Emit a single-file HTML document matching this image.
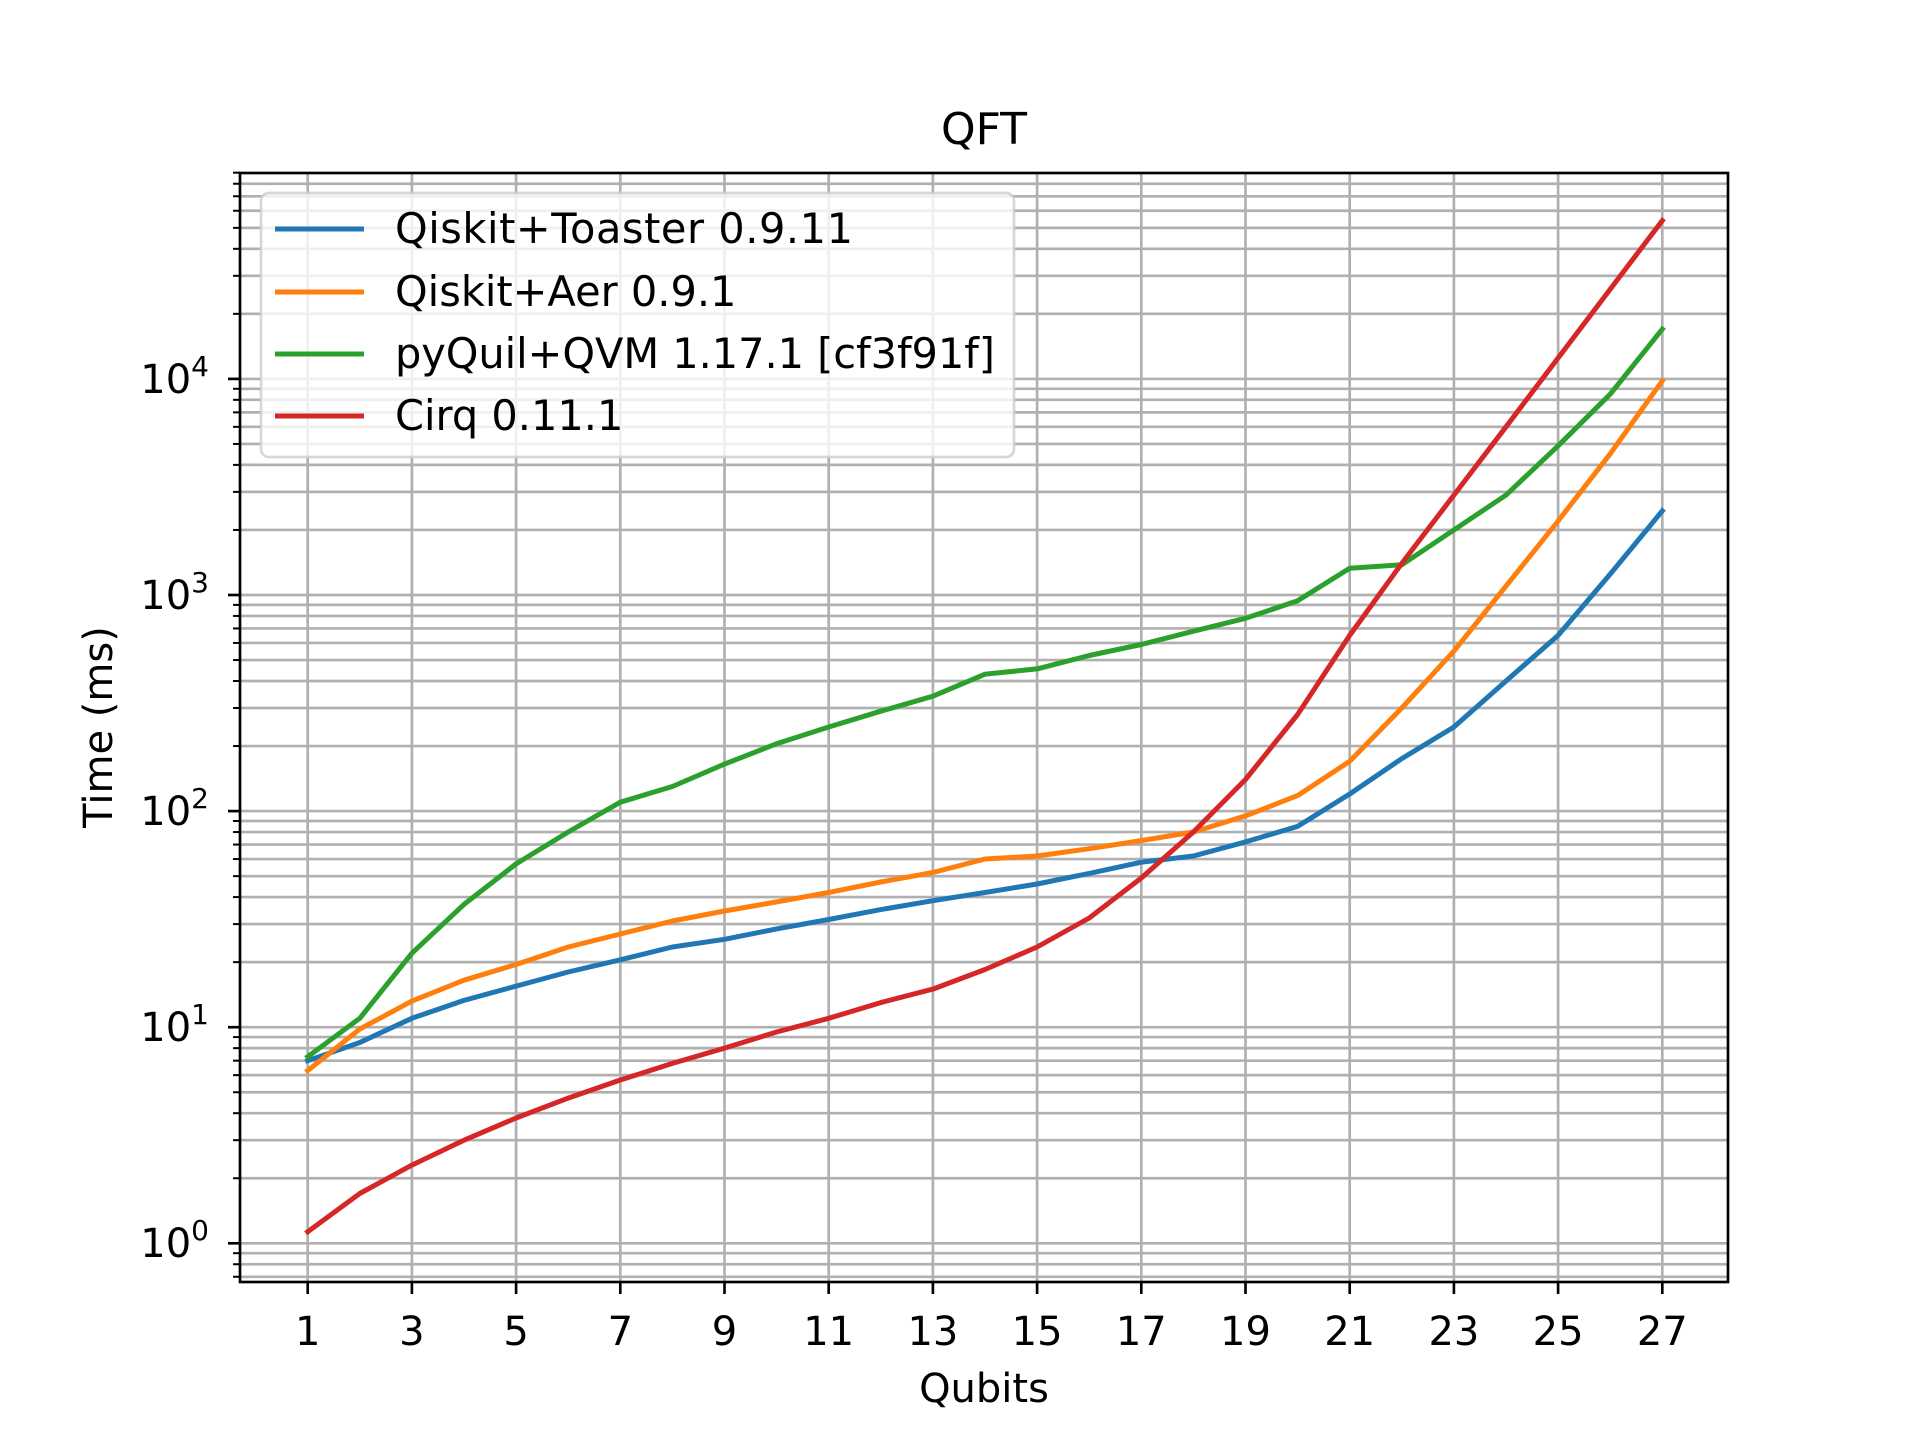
<!DOCTYPE html>
<html><head><meta charset="utf-8"><style>
html,body{margin:0;padding:0;background:#fff;}
svg{display:block;font-family:"DejaVu Sans","Liberation Sans",sans-serif;}
</style></head><body>
<svg id="s" width="1920" height="1440" viewBox="0 0 1920 1440" xmlns="http://www.w3.org/2000/svg">
<rect width="1920" height="1440" fill="#fff"/>
<defs><clipPath id="c"><rect x="240" y="173" width="1488" height="1109"/></clipPath></defs>
<g id="grid" clip-path="url(#c)"></g>
<g id="series" clip-path="url(#c)"></g>
<g id="ticks"></g>
<rect x="240" y="173" width="1488" height="1109" fill="none" stroke="#000" stroke-width="2.67"/>
<!-- legend -->
<rect x="261" y="193" width="753" height="264" rx="8" fill="#fff" fill-opacity="0.8" stroke="#cccccc" stroke-opacity="0.8" stroke-width="2.67"/>
<line x1="275" y1="229" x2="364" y2="229" stroke="#1f77b4" stroke-width="5"/>
<line x1="275" y1="292" x2="364" y2="292" stroke="#ff7f0e" stroke-width="5"/>
<line x1="275" y1="354" x2="364" y2="354" stroke="#2ca02c" stroke-width="5"/>
<line x1="275" y1="416" x2="364" y2="416" stroke="#d62728" stroke-width="5"/>
<g font-size="41.5" fill="#000">
<text x="395" y="243" textLength="458">Qiskit+Toaster 0.9.11</text>
<text x="395" y="306">Qiskit+Aer 0.9.1</text>
<text x="395" y="368" textLength="600">pyQuil+QVM 1.17.1 [cf3f91f]</text>
<text x="395" y="430">Cirq 0.11.1</text>
</g>
<!-- y tick labels -->
<g font-size="40" text-anchor="end">
<text x="209" y="1257">10<tspan font-size="28" dy="-17">0</tspan></text>
<text x="209" y="1041">10<tspan font-size="28" dy="-17">1</tspan></text>
<text x="209" y="825">10<tspan font-size="28" dy="-17">2</tspan></text>
<text x="209" y="609">10<tspan font-size="28" dy="-17">3</tspan></text>
<text x="209" y="393">10<tspan font-size="28" dy="-17">4</tspan></text>
</g>
<!-- x tick labels -->
<g font-size="40" text-anchor="middle">
<text x="307.7" y="1345">1</text><text x="411.9" y="1345">3</text><text x="516.1" y="1345">5</text><text x="620.3" y="1345">7</text><text x="724.5" y="1345">9</text><text x="828.7" y="1345">11</text><text x="932.9" y="1345">13</text><text x="1037.1" y="1345">15</text><text x="1141.3" y="1345">17</text><text x="1245.5" y="1345">19</text><text x="1349.7" y="1345">21</text><text x="1453.9" y="1345">23</text><text x="1558.1" y="1345">25</text><text x="1662.3" y="1345">27</text>
</g>
<text x="984" y="1402" font-size="40" text-anchor="middle">Qubits</text>
<text x="0" y="0" font-size="40" text-anchor="middle" transform="translate(112,727) rotate(-90)">Time (ms)</text>
<text x="984" y="144" font-size="44" text-anchor="middle">QFT</text>
</svg>
<script>
const NS="http://www.w3.org/2000/svg";
const X=q=>307.7+52.1*(q-1), Y=v=>1243.3-216.1*Math.log10(v);
function el(p,t,a){const e=document.createElementNS(NS,t);for(const k in a)e.setAttribute(k,a[k]);p.appendChild(e);return e;}
const g=document.getElementById('grid'),tk=document.getElementById('ticks'),sr=document.getElementById('series');
for(let q=1;q<=27;q+=2){const x=X(q);el(g,'line',{x1:x,x2:x,y1:173,y2:1282,stroke:'#b0b0b0','stroke-width':2.67});el(tk,'line',{x1:x,x2:x,y1:1282,y2:1294,stroke:'#000','stroke-width':2.67});}
for(let d=-1;d<=4;d++)for(let m=1;m<=9;m++){const y=Y(m*Math.pow(10,d));if(y<172||y>1283)continue;
el(g,'line',{x1:240,x2:1728,y1:y,y2:y,stroke:'#b0b0b0','stroke-width':2.67});
el(tk,'line',{x1:m==1?228:233,x2:240,y1:y,y2:y,stroke:'#000','stroke-width':m==1?2.67:2});}
const D={
'#1f77b4':[7,8.5,11,13.3,15.5,18,20.5,23.5,25.5,28.5,31.5,35,38.5,42,46,51.5,58,62,72,85,120,175,245,400,650,1250,2450],
'#ff7f0e':[6.3,9.8,13.2,16.5,19.5,23.5,27,31,34.5,38,42,47,52,60,62,67,73,80,95,118,170,300,550,1100,2200,4500,9800],
'#2ca02c':[7.3,11,22,37,57,80,110,130,165,205,245,290,340,430,455,525,590,680,780,940,1330,1380,2000,2900,4900,8500,17000],
'#d62728':[1.13,1.7,2.3,3.0,3.8,4.7,5.7,6.8,8,9.5,11,13,15,18.5,23.5,32,49,80,140,280,650,1400,2900,6000,12500,26000,54000]};
for(const c in D){el(sr,'polyline',{points:D[c].map((v,i)=>X(i+1).toFixed(1)+','+Y(v).toFixed(1)).join(' '),fill:'none',stroke:c,'stroke-width':5,'stroke-linejoin':'round','stroke-linecap':'square'});}
</script>
</body></html>
